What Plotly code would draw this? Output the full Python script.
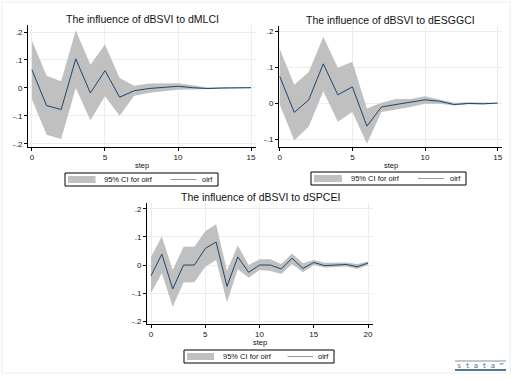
import plotly.graph_objects as go

W, H = 514, 381

# ---------------- data ----------------
steps1 = list(range(16))
oirf1 = [0.065, -0.063, -0.077, 0.104, -0.018, 0.062, -0.033, -0.010, -0.002, 0.002, 0.006, 0.001, -0.002, 0.000, 0.000, 0.001]
upper1 = [0.170, 0.044, 0.024, 0.206, 0.083, 0.155, 0.036, 0.008, 0.016, 0.017, 0.017, 0.010, 0.002, 0.001, 0.001, 0.002]
lower1 = [-0.040, -0.167, -0.182, 0.000, -0.115, -0.030, -0.099, -0.028, -0.018, -0.012, -0.006, -0.004, -0.004, -0.002, -0.002, -0.001]

steps2 = list(range(16))
oirf2 = [0.074, -0.026, 0.009, 0.109, 0.023, 0.045, -0.064, -0.011, -0.004, 0.003, 0.009, 0.005, -0.004, -0.001, -0.002, 0.000]
upper2 = [0.150, 0.051, 0.086, 0.184, 0.098, 0.115, -0.015, 0.001, 0.011, 0.011, 0.019, 0.009, 0.001, 0.002, 0.001, 0.001]
lower2 = [-0.004, -0.104, -0.065, 0.033, -0.052, -0.025, -0.113, -0.025, -0.018, -0.011, -0.002, -0.002, -0.007, -0.003, -0.004, -0.002]

steps3 = list(range(21))
oirf3 = [-0.038, 0.039, -0.085, 0.000, 0.000, 0.059, 0.082, -0.076, 0.029, -0.026, 0.000, 0.000, -0.014, 0.024, -0.012, 0.009, -0.002, 0.000, 0.002, -0.006, 0.007]
upper3 = [0.029, 0.102, -0.018, 0.065, 0.065, 0.120, 0.145, -0.020, 0.070, 0.000, 0.021, 0.021, 0.004, 0.041, 0.006, 0.018, 0.008, 0.008, 0.009, 0.004, 0.013]
lower3 = [-0.100, -0.029, -0.149, -0.062, -0.061, -0.006, 0.018, -0.133, -0.015, -0.045, -0.018, -0.021, -0.032, 0.004, -0.026, 0.000, -0.009, -0.006, -0.005, -0.014, 0.000]

titles = ["The influence of dBSVI to dMLCI",
          "The influence of dBSVI to dESGGCI",
          "The influence of dBSVI to dSPCEI"]
ytick_vals = [-0.2, -0.1, 0, 0.1, 0.2]
ytick_text = ["-.2", "-.1", "0", ".1", ".2"]
legend_ci = "95% CI for oirf"
legend_line = "oirf"
xlabel = "step"

# ---------------- style ----------------
FONT = "Liberation Sans, Arial, sans-serif"
CI_COL = "#c0c0c0"
LINE_COL = "#1a476f"
GRID = "#e6eef0"
FRAME = "#e8eeee"

def px(x):
    return x / W

def py(y):
    return 1 - y / H

panels = [
    dict(steps=steps1, oirf=oirf1, up=upper1, lo=lower1,
         box=(28, 256, 25, 147), xr=[-0.27, 15.34], yr=[-0.211, 0.225],
         xt=[0, 5, 10, 15], yt=[-0.2, -0.1, 0, 0.1, 0.2],
         title_y=19, step_y=165, leg=(65, 218, 173, 186)),
    dict(steps=steps2, oirf=oirf2, up=upper2, lo=lower2,
         box=(279, 502, 26, 147), xr=[-0.05, 15.3], yr=[-0.122, 0.214],
         xt=[0, 5, 10, 15], yt=[-0.1, 0, 0.1, 0.2],
         title_y=20, step_y=165, leg=(311, 466, 172, 185)),
    dict(steps=steps3, oirf=oirf3, up=upper3, lo=lower3,
         box=(147, 373, 203, 324), xr=[-0.37, 20.46], yr=[-0.21, 0.221],
         xt=[0, 5, 10, 15, 20], yt=[-0.2, -0.1, 0, 0.1, 0.2],
         title_y=197, step_y=342.5, leg=(184, 334, 350, 363)),
]

fig = go.Figure()
shapes = []
annotations = []
layout_axes = {}

for i, p in enumerate(panels):
    n = i + 1
    xa = "x" if n == 1 else f"x{n}"
    ya = "y" if n == 1 else f"y{n}"
    xl, xrgt, yt, yb = p["box"]
    fig.add_trace(go.Scatter(
        x=p["steps"] + p["steps"][::-1],
        y=p["up"] + p["lo"][::-1],
        fill="toself", fillcolor=CI_COL, line=dict(width=0, color=CI_COL),
        mode="lines", hoverinfo="skip", showlegend=False,
        xaxis=xa, yaxis=ya))
    fig.add_trace(go.Scatter(
        x=p["steps"], y=p["oirf"], mode="lines",
        line=dict(color=LINE_COL, width=1), showlegend=False,
        xaxis=xa, yaxis=ya))
    axkey = "" if n == 1 else str(n)
    layout_axes[f"xaxis{axkey}"] = dict(
        domain=[px(xl), px(xrgt)], range=p["xr"], anchor=ya, automargin=False,
        tickvals=p["xt"], ticks="outside", ticklen=3, tickcolor="#000",
        ticklabelstandoff=-1,
        showline=True, linecolor="#000", linewidth=1,
        showgrid=True, gridcolor=GRID, gridwidth=1, zeroline=False,
        tickfont=dict(size=8, family=FONT, color="#111"))
    yvals = p["yt"]
    layout_axes[f"yaxis{axkey}"] = dict(
        domain=[py(yb), py(yt)], range=p["yr"], anchor=xa, automargin=False,
        tickvals=yvals, ticktext=[ytick_text[ytick_vals.index(v)] for v in yvals],
        ticks="outside", ticklen=3, tickcolor="#000",
        showline=True, linecolor="#000", linewidth=1,
        showgrid=True, gridcolor=GRID, gridwidth=1, zeroline=False,
        tickfont=dict(size=8, family=FONT, color="#111"))
    annotations.append(dict(text=titles[i], x=px((xl + xrgt) / 2), y=py(p["title_y"]),
                            xref="paper", yref="paper", showarrow=False,
                            font=dict(size=10.5, family=FONT, color="#111"),
                            xanchor="center", yanchor="middle"))
    annotations.append(dict(text=xlabel, x=px((xl + xrgt) / 2), y=py(p["step_y"]),
                            xref="paper", yref="paper", showarrow=False,
                            font=dict(size=7.5, family=FONT, color="#111"),
                            xanchor="center", yanchor="middle"))
    lx0, lx1, ly0, ly1 = p["leg"]
    shapes.append(dict(type="rect", xref="paper", yref="paper",
                       x0=px(lx0), x1=px(lx1), y0=py(ly1), y1=py(ly0),
                       line=dict(color="#000", width=1), fillcolor="white", layer="above"))
    wbox = lx1 - lx0
    shapes.append(dict(type="rect", xref="paper", yref="paper",
                       x0=px(lx0 + 3), x1=px(lx0 + 3 + 0.18 * wbox),
                       y0=py(ly1 - 3), y1=py(ly0 + 3),
                       line=dict(width=0), fillcolor=CI_COL, layer="above"))
    annotations.append(dict(text=legend_ci, x=px(lx0 + 0.245 * wbox), y=py((ly0 + ly1) / 2),
                            xref="paper", yref="paper", showarrow=False,
                            font=dict(size=7.5, family=FONT, color="#111"),
                            xanchor="left", yanchor="middle"))
    shapes.append(dict(type="line", xref="paper", yref="paper",
                       x0=px(lx0 + 0.69 * wbox), x1=px(lx0 + 0.86 * wbox),
                       y0=py((ly0 + ly1) / 2), y1=py((ly0 + ly1) / 2),
                       line=dict(color="#8a9cb0", width=1), layer="above"))
    annotations.append(dict(text=legend_line, x=px(lx1 - 3), y=py((ly0 + ly1) / 2),
                            xref="paper", yref="paper", showarrow=False,
                            font=dict(size=7.5, family=FONT, color="#111"),
                            xanchor="right", yanchor="middle"))

shapes.append(dict(type="rect", xref="paper", yref="paper",
                   x0=px(2), x1=px(510), y0=py(373), y1=py(2),
                   line=dict(color=FRAME, width=1), layer="below"))

shapes.append(dict(type="line", xref="paper", yref="paper",
                   x0=px(455), x1=px(506), y0=py(361), y1=py(361),
                   line=dict(color="#7f93a8", width=1)))
shapes.append(dict(type="line", xref="paper", yref="paper",
                   x0=px(455), x1=px(506), y0=py(370), y1=py(370),
                   line=dict(color="#1a476f", width=1.5)))
annotations.append(dict(text="s t a t a ™", x=px(480), y=py(365.5),
                        xref="paper", yref="paper", showarrow=False,
                        font=dict(size=7, family="DejaVu Sans Mono, monospace", color="#4a6a8a"),
                        xanchor="center", yanchor="middle"))

fig.update_layout(
    width=W, height=H,
    margin=dict(l=0, r=0, t=0, b=0, autoexpand=False),
    paper_bgcolor="white", plot_bgcolor="white",
    showlegend=False,
    shapes=shapes, annotations=annotations,
    **layout_axes)

fig.write_html("out.html",
               config={"displayModeBar": False},
               post_script="document.body.style.margin='0';document.body.style.overflow='hidden';")
